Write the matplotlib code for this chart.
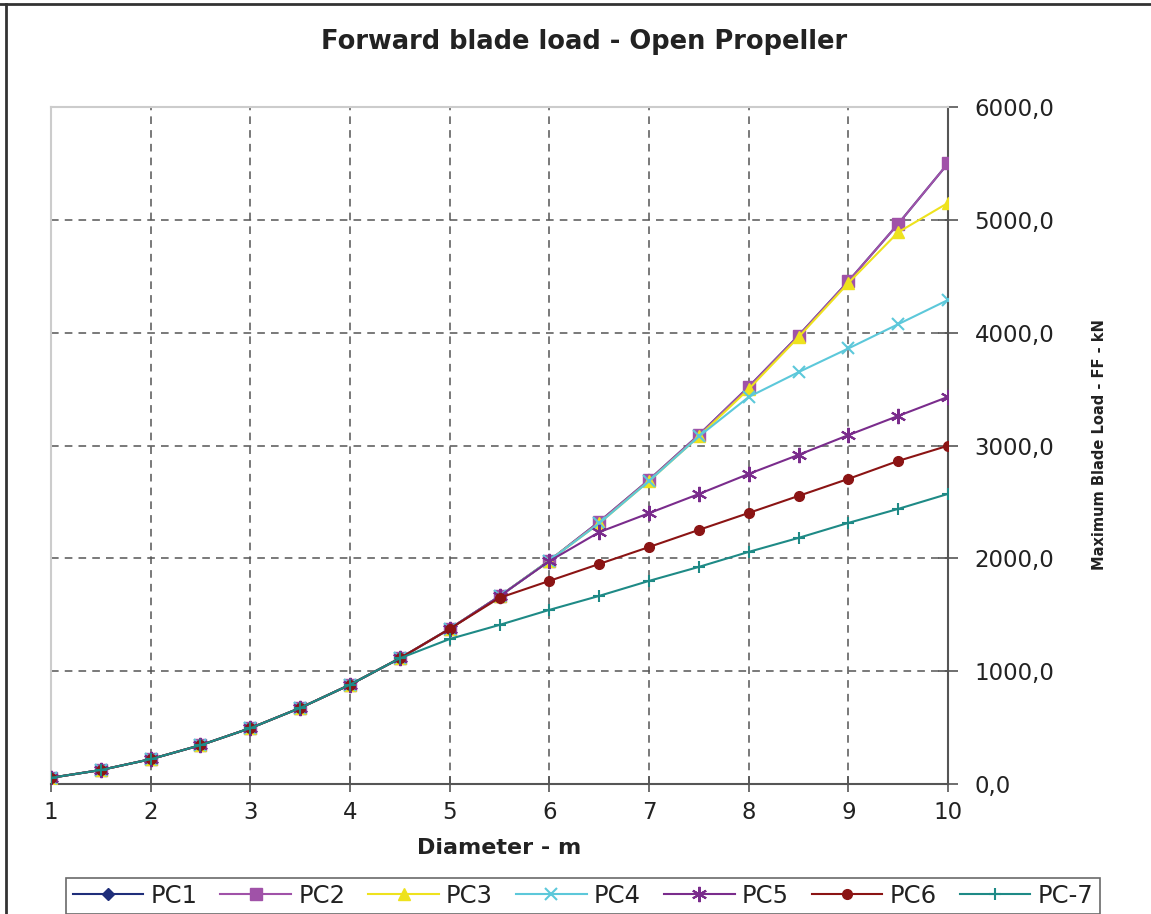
import matplotlib
matplotlib.use("Agg")
import matplotlib.pyplot as plt
from matplotlib.lines import Line2D

diameter = [1, 1.5, 2, 2.5, 3, 3.5, 4, 4.5, 5, 5.5, 6, 6.5, 7, 7.5, 8, 8.5, 9, 9.5, 10]
pc1 = [55, 124, 220, 344, 495, 674, 880, 1114, 1375, 1664, 1980, 2324, 2695, 3094, 3520, 3974, 4455, 4964, 5500]
pc2 = [55, 124, 220, 344, 495, 674, 880, 1114, 1375, 1664, 1980, 2324, 2695, 3094, 3520, 3974, 4455, 4964, 5500]
pc3 = [55, 124, 220, 344, 495, 674, 880, 1114, 1375, 1664, 1980, 2310, 2685, 3080, 3500, 3960, 4440, 4890, 5150]
pc4 = [55, 124, 220, 344, 495, 674, 880, 1114, 1375, 1664, 1980, 2310, 2685, 3080, 3430, 3650, 3860, 4075, 4290]
pc5 = [55, 124, 220, 344, 495, 674, 880, 1114, 1375, 1664, 1975, 2232, 2400, 2570, 2748, 2917, 3092, 3262, 3431]
pc6 = [55, 124, 220, 344, 495, 674, 880, 1114, 1375, 1650, 1800, 1950, 2100, 2252, 2402, 2553, 2704, 2863, 2998]
pc7 = [55, 124, 220, 344, 495, 674, 880, 1114, 1285, 1410, 1543, 1667, 1800, 1924, 2057, 2181, 2314, 2438, 2571]

series = [
    ("PC1", pc1, "#1F2E7A", "D", 6),
    ("PC2", pc2, "#A052A8", "s", 8),
    ("PC3", pc3, "#EEE21E", "^", 9),
    ("PC4", pc4, "#5CC8DA", "x", 9),
    ("PC5", pc5, "#7A2C8C", (6, 2, 0), 11),
    ("PC6", pc6, "#8B1414", "o", 7),
    ("PC-7", pc7, "#1E8A86", "+", 9),
]

y_ticks = [0, 1000, 2000, 3000, 4000, 5000, 6000]
y_tick_labels = ["0,0", "1000,0", "2000,0", "3000,0", "4000,0", "5000,0", "6000,0"]
x_ticks = [1, 2, 3, 4, 5, 6, 7, 8, 9, 10]

fig = plt.figure(figsize=(11.51, 9.14), dpi=100)
ax = fig.add_axes([51 / 1151, 1 - 784 / 914, (948 - 51) / 1151, (784 - 107) / 914])

for name, vals, col, mk, ms in series:
    mew = 1.5 if mk in ("x", "+") or isinstance(mk, tuple) else 1
    ax.plot(diameter, vals, color=col, marker=mk, markersize=ms, linewidth=1.5,
            markeredgewidth=mew, label=name, zorder=3)

ax.set_xlim(1, 10)
ax.set_ylim(0, 6000)
ax.set_xticks(x_ticks)
ax.set_yticks(y_ticks)
ax.set_yticklabels(y_tick_labels)
ax.yaxis.tick_right()
ax.yaxis.set_label_position("right")
ax.grid(True, linestyle=(0, (5, 4)), color="#555555", linewidth=1.1)

for s in ["left", "top"]:
    ax.spines[s].set_color("#CCCCCC")
    ax.spines[s].set_linewidth(1.5)
ax.spines["right"].set_color("#555555")
ax.spines["bottom"].set_color("#555555")
ax.spines["right"].set_linewidth(1.5)
ax.spines["bottom"].set_linewidth(1.5)

ax.tick_params(axis="x", direction="inout", length=12, width=1.2, color="#555555",
               labelsize=16.5, pad=6, labelcolor="#222222")
ax.tick_params(axis="y", direction="inout", length=14, width=1.2, color="#555555",
               labelsize=16.5, pad=12, labelcolor="#222222")

ax.set_xlabel("Diameter - m", fontsize=16, fontweight="bold", labelpad=10, color="#222222")

fig.text(1100 / 1151, 1 - 445 / 914, "Maximum Blade Load - FF - kN", rotation=90,
         fontsize=10.5, fontweight="bold", ha="center", va="center", color="#222222")

fig.text(584 / 1151, 1 - 42 / 914, "Forward blade load - Open Propeller",
         fontsize=18.5, fontweight="bold", ha="center", va="center", color="#222222")

leg = fig.legend(loc="center", bbox_to_anchor=(583 / 1151, 1 - 896 / 914), ncol=7,
                 fontsize=17.5, frameon=True, fancybox=False, handlelength=2.9,
                 columnspacing=0.95, handletextpad=0.3, borderpad=0.25)
leg.get_frame().set_edgecolor("#444444")
leg.get_frame().set_linewidth(1.2)
for t in leg.get_texts():
    t.set_color("#222222")

fig.add_artist(Line2D([0, 1], [1 - 4 / 914, 1 - 4 / 914], transform=fig.transFigure,
                      color="#333333", linewidth=2))
fig.add_artist(Line2D([6 / 1151, 6 / 1151], [0, 1 - 4 / 914], transform=fig.transFigure,
                      color="#333333", linewidth=2))

fig.savefig("out.png", dpi=100)
